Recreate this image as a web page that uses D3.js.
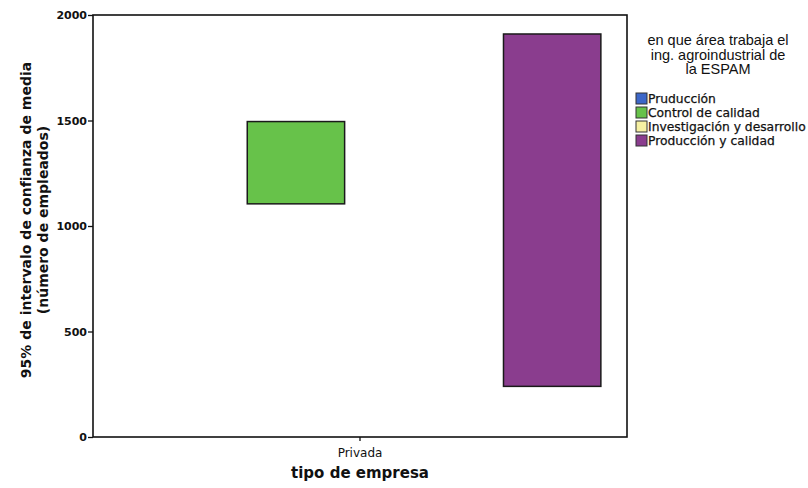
<!doctype html>
<html lang="es">
  <head>
    <meta charset="utf-8">
    <title>Intervalo de confianza por tipo de empresa</title>
    <style>
      body{margin:0;background:#fff;}
      svg text{fill:#111;}
    </style>
  </head>
  <body>
    <script src="https://cdn.jsdelivr.net/npm/d3@7/dist/d3.min.js"></script>
    <script>
      // data
      var categories = ["Privada"];
      var areas = ["Pruducción", "Control de calidad", "Investigación y desarrollo", "Producción y calidad"];
      var ciLow  = [null, 1105, null, 240];
      var ciHigh = [null, 1495, null, 1910];
      var yTicks = [0, 500, 1000, 1500, 2000];
      var areaColors = ["#3d67c8", "#67c24a", "#f6f0a2", "#8a3d8e"];

      var margin = {top: 15, right: 181, bottom: 51, left: 93},
          width = 808 - margin.left - margin.right,
          height = 488 - margin.top - margin.bottom;

      var svg = d3.select("body")
        .append("svg")
        .attr("width", 808)
        .attr("height", 488);

      var chart = svg.append("g")
        .attr("transform", "translate(" + margin.left + "," + margin.top + ")");

      var y = d3.scaleLinear()
        .domain([0, 2000])
        .range([height, 0]);

      var x = d3.scaleBand()
        .domain(categories)
        .range([0, width])
        .paddingOuter(0.021);

      var xArea = d3.scaleBand()
        .domain(areas)
        .range([0, x.bandwidth()])
        .paddingInner(0.24)
        .paddingOuter(0.12);

      var boxes = [];
      categories.forEach(function(c){
        areas.forEach(function(a, i){
          if (ciLow[i] != null) boxes.push({cat: c, area: a, lo: ciLow[i], hi: ciHigh[i], color: areaColors[i]});
        });
      });

      chart.selectAll(".box")
        .data(boxes)
        .enter()
        .append("rect")
        .attr("class", "box")
        .attr("x", function(d){ return x(d.cat) + xArea(d.area); })
        .attr("y", function(d){ return y(d.hi); })
        .attr("width", xArea.bandwidth())
        .attr("height", function(d){ return y(d.lo) - y(d.hi); })
        .attr("fill", function(d){ return d.color; })
        .attr("stroke", "#1a1a1a")
        .attr("stroke-width", 1.5);

      // frame
      chart.append("rect")
        .attr("width", width)
        .attr("height", height)
        .attr("fill", "none")
        .attr("stroke", "#111")
        .attr("stroke-width", 1.6);

      var yAxis = chart.append("g")
        .call(d3.axisLeft(y).tickValues(yTicks).tickFormat(d3.format("d")).tickSize(5).tickPadding(1));
      yAxis.select(".domain").remove();
      yAxis.selectAll("line").attr("stroke", "#111").attr("stroke-width", 1.3);
      yAxis.selectAll("text")
        .attr("font-family", "DejaVu Sans")
        .attr("font-size", "11px")
        .attr("font-weight", "bold")
        .attr("fill", "#222");

      var xAxis = chart.append("g")
        .attr("transform", "translate(0," + height + ")")
        .call(d3.axisBottom(x).tickSize(4).tickPadding(7));
      xAxis.select(".domain").remove();
      xAxis.selectAll("line").attr("stroke", "#111").attr("stroke-width", 1.3);
      xAxis.selectAll("text")
        .attr("font-family", "DejaVu Sans")
        .attr("font-size", "12px")
        .attr("fill", "#222");

      // axis titles
      svg.append("text")
        .attr("x", margin.left + width / 2)
        .attr("y", 478)
        .attr("text-anchor", "middle")
        .attr("font-family", "DejaVu Sans")
        .attr("font-weight", "bold")
        .attr("font-size", "15px")
        .text("tipo de empresa");

      var yLabel = svg.append("text")
        .attr("transform", "translate(31," + (margin.top + height / 2 - 6) + ") rotate(-90)")
        .attr("text-anchor", "middle")
        .attr("font-family", "DejaVu Sans")
        .attr("font-weight", "bold")
        .attr("font-size", "14px");
      yLabel.append("tspan").attr("x", 0).attr("y", 0).text("95% de intervalo de confianza de media");
      yLabel.append("tspan").attr("x", 0).attr("y", 17).text("(número de empleados)");

      // legend
      var legendTitle = ["en que área trabaja el", "ing. agroindustrial de", "la ESPAM"];
      svg.selectAll(".ltitle")
        .data(legendTitle)
        .enter()
        .append("text")
        .attr("class", "ltitle")
        .attr("x", 718)
        .attr("y", function(d, i){ return 45 + i * 14.5; })
        .attr("text-anchor", "middle")
        .attr("font-family", "Liberation Sans")
        .attr("font-size", "14.5px")
        .text(function(d){ return d; });

      var legend = svg.selectAll(".litem")
        .data(areas)
        .enter()
        .append("g")
        .attr("class", "litem")
        .attr("transform", function(d, i){ return "translate(636," + (93 + i * 14) + ")"; });

      legend.append("rect")
        .attr("width", 11)
        .attr("height", 11)
        .attr("fill", function(d, i){ return areaColors[i]; })
        .attr("stroke", "#333")
        .attr("stroke-width", 1);

      legend.append("text")
        .attr("x", 12)
        .attr("y", 10)
        .attr("font-family", "DejaVu Sans")
        .attr("font-size", "12.3px")
        .attr("stroke", "#111")
        .attr("stroke-width", 0.25)
        .text(function(d){ return d; });
    </script>
  </body>
</html>
